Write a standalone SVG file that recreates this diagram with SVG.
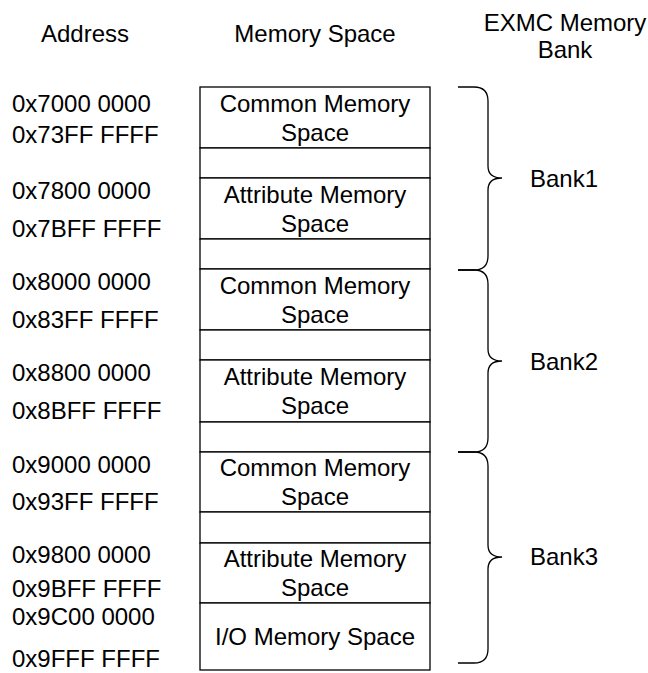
<svg xmlns="http://www.w3.org/2000/svg" width="648" height="673" viewBox="0 0 648 673">
<style>
text{font-family:"Liberation Sans",Arial,sans-serif;font-size:24px;fill:#000}
.c{text-anchor:middle}
.cell{fill:#fff;stroke:#000;stroke-width:1.3}
.brace{fill:none;stroke:#000;stroke-width:1.3}
</style>
<rect width="648" height="673" fill="#fff"/>
<g id="headers">
<text class="c" x="85" y="42">Address</text>
<text class="c" x="315" y="42">Memory Space</text>
<text class="c" x="565" y="31">EXMC Memory</text>
<text class="c" x="565" y="58">Bank</text>
</g>
<g id="addresses">
<text x="12" y="112">0x7000 0000</text>
<text x="12" y="143">0x73FF FFFF</text>
<text x="12" y="199">0x7800 0000</text>
<text x="12" y="237">0x7BFF FFFF</text>
<text x="12" y="290">0x8000 0000</text>
<text x="12" y="328">0x83FF FFFF</text>
<text x="12" y="381">0x8800 0000</text>
<text x="12" y="419">0x8BFF FFFF</text>
<text x="12" y="473">0x9000 0000</text>
<text x="12" y="510">0x93FF FFFF</text>
<text x="12" y="563">0x9800 0000</text>
<text x="12" y="597">0x9BFF FFFF</text>
<text x="12" y="625">0x9C00 0000</text>
<text x="12" y="667">0x9FFF FFFF</text>
</g>
<g id="b1-common"><rect class="cell" x="200" y="87" width="230" height="61"/><text class="c" x="315" y="111.5">Common Memory</text><text class="c" x="315" y="140.5">Space</text></g>
<g id="b1-gap1"><rect class="cell" x="200" y="148" width="230" height="30"/></g>
<g id="b1-attr"><rect class="cell" x="200" y="178" width="230" height="61"/><text class="c" x="315" y="202.5">Attribute Memory</text><text class="c" x="315" y="231.5">Space</text></g>
<g id="b1-gap2"><rect class="cell" x="200" y="239" width="230" height="30"/></g>
<g id="b2-common"><rect class="cell" x="200" y="269" width="230" height="61"/><text class="c" x="315" y="293.5">Common Memory</text><text class="c" x="315" y="322.5">Space</text></g>
<g id="b2-gap1"><rect class="cell" x="200" y="330" width="230" height="30"/></g>
<g id="b2-attr"><rect class="cell" x="200" y="360" width="230" height="62"/><text class="c" x="315" y="385">Attribute Memory</text><text class="c" x="315" y="414">Space</text></g>
<g id="b2-gap2"><rect class="cell" x="200" y="422" width="230" height="30"/></g>
<g id="b3-common"><rect class="cell" x="200" y="452" width="230" height="60"/><text class="c" x="315" y="476">Common Memory</text><text class="c" x="315" y="505">Space</text></g>
<g id="b3-gap1"><rect class="cell" x="200" y="512" width="230" height="31"/></g>
<g id="b3-attr"><rect class="cell" x="200" y="543" width="230" height="60"/><text class="c" x="315" y="567">Attribute Memory</text><text class="c" x="315" y="596">Space</text></g>
<g id="b3-io"><rect class="cell" x="200" y="603" width="230" height="67"/><text class="c" x="315" y="645">I/O Memory Space</text></g>
<g id="connectors">
<path class="brace" d="M458,87 H474 Q488,87 488,101 V166 Q488,178 502,178 Q488,178 488,190 V256 Q488,270 474,270 H458"/>
<path class="brace" d="M458,270 H474 Q488,270 488,284 V349 Q488,361 502,361 Q488,361 488,373 V438 Q488,452 474,452 H458"/>
<path class="brace" d="M458,452 H474 Q488,452 488,466 V545 Q488,557 502,557 Q488,557 488,569 V649 Q488,663 474,663 H458"/>
</g>
<g id="bank1"><text x="530" y="187">Bank1</text></g>
<g id="bank2"><text x="530" y="370">Bank2</text></g>
<g id="bank3"><text x="530" y="565">Bank3</text></g>
</svg>
